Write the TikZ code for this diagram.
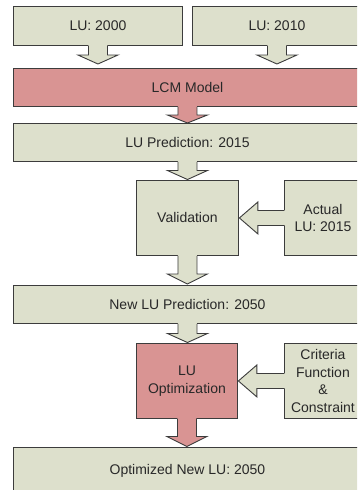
\documentclass[tikz,border=0pt]{standalone}
\usepackage{fontspec}
\setmainfont{Liberation Sans}
\usetikzlibrary{calc}
\definecolor{boxgreen}{RGB}{221,224,204}
\definecolor{boxred}{RGB}{217,148,147}
\definecolor{edge}{RGB}{60,60,60}
\definecolor{txt}{RGB}{40,40,40}
\tikzset{
  boxsty/.style={draw=edge, line width=0.9pt, inner sep=0pt, anchor=north west,
    align=center, text=txt, font=\fontsize{14}{17.5}\selectfont},
  greenbox/.style={boxsty, fill=boxgreen},
  redbox/.style={boxsty, fill=boxred},
  arrowsty/.style={draw=edge, line width=0.9pt, line join=miter},
}
% block arrow pointing down: source, target, fill, gap, head length
\newcommand\blkdown[5]{%
  \fill[#3] let \p1=(#1.south), \p2=(#2.north) in
    (\x1-9.5pt,\y1+0.8pt) -- (\x1-9.5pt,\y2+#4pt+#5pt) -- (\x1-20pt,\y2+#4pt+#5pt) --
    (\x1,\y2+#4pt) -- (\x1+20pt,\y2+#4pt+#5pt) -- (\x1+9.5pt,\y2+#4pt+#5pt) --
    (\x1+9.5pt,\y1+0.8pt) -- cycle;
  \draw[arrowsty] let \p1=(#1.south), \p2=(#2.north) in
    (\x1-9.5pt,\y1) -- (\x1-9.5pt,\y2+#4pt+#5pt) -- (\x1-20pt,\y2+#4pt+#5pt) --
    (\x1,\y2+#4pt) -- (\x1+20pt,\y2+#4pt+#5pt) -- (\x1+9.5pt,\y2+#4pt+#5pt) --
    (\x1+9.5pt,\y1);
}
% block arrow pointing left: source, target, fill
\newcommand\blkleft[3]{%
  \fill[#3] let \p1=(#1.west), \p2=(#2.east) in
    (\x1+0.8pt,\y1+7.5pt) -- (\x2+19pt,\y1+7.5pt) -- (\x2+19pt,\y1+16pt) --
    (\x2+0.5pt,\y1) -- (\x2+19pt,\y1-16pt) -- (\x2+19pt,\y1-7.5pt) --
    (\x1+0.8pt,\y1-7.5pt) -- cycle;
  \draw[arrowsty] let \p1=(#1.west), \p2=(#2.east) in
    (\x1,\y1+7.5pt) -- (\x2+19pt,\y1+7.5pt) -- (\x2+19pt,\y1+16pt) --
    (\x2+0.5pt,\y1) -- (\x2+19pt,\y1-16pt) -- (\x2+19pt,\y1-7.5pt) --
    (\x1,\y1-7.5pt);
}
\begin{document}
\begin{tikzpicture}[x=1pt,y=-1pt]
\path[use as bounding box, clip] (0,0) rectangle (357,490);
\fill[white] (0,0) rectangle (357,490);

\node[greenbox, minimum width=169pt, minimum height=39pt] (lu2000) at (13,6) {LU: 2000};
\node[greenbox, minimum width=169pt, minimum height=39pt] (lu2010) at (192,6) {LU: 2010};
\node[redbox, minimum width=348pt, minimum height=38pt] (lcm) at (13,68) {LCM Model};
\node[greenbox, minimum width=348pt, minimum height=38pt] (pred) at (13,123) {LU Prediction: 2015};
\node[greenbox, minimum width=102pt, minimum height=75pt] (valid) at (136,180) {Validation};
\node[greenbox, minimum width=77pt, minimum height=75pt] (actual) at (284,180) {Actual\\LU: 2015};
\node[greenbox, minimum width=348pt, minimum height=38pt] (new) at (13,285) {New LU Prediction: 2050};
\node[redbox, minimum width=101pt, minimum height=75pt] (opt) at (136,343) {LU\\Optimization};
\node[greenbox, minimum width=77pt, minimum height=75pt] (crit) at (284,343) {Criteria\\Function\\\&\\Constraint};
\node[greenbox, minimum width=348pt, minimum height=46pt] (optnew) at (13,447) {Optimized New LU: 2050};

\blkdown{lu2000}{lcm}{boxgreen}{4}{9}
\blkdown{lu2010}{lcm}{boxgreen}{4}{9}
\blkdown{lcm}{pred}{boxred}{0}{8}
\blkdown{pred}{valid}{boxgreen}{0.5}{9}
\blkleft{actual}{valid}{boxgreen}
\blkdown{valid}{new}{boxgreen}{1}{10}
\blkdown{new}{opt}{boxgreen}{0.5}{9}
\blkleft{crit}{opt}{boxgreen}
\blkdown{opt}{optnew}{boxred}{0.5}{10}
\end{tikzpicture}
\end{document}
